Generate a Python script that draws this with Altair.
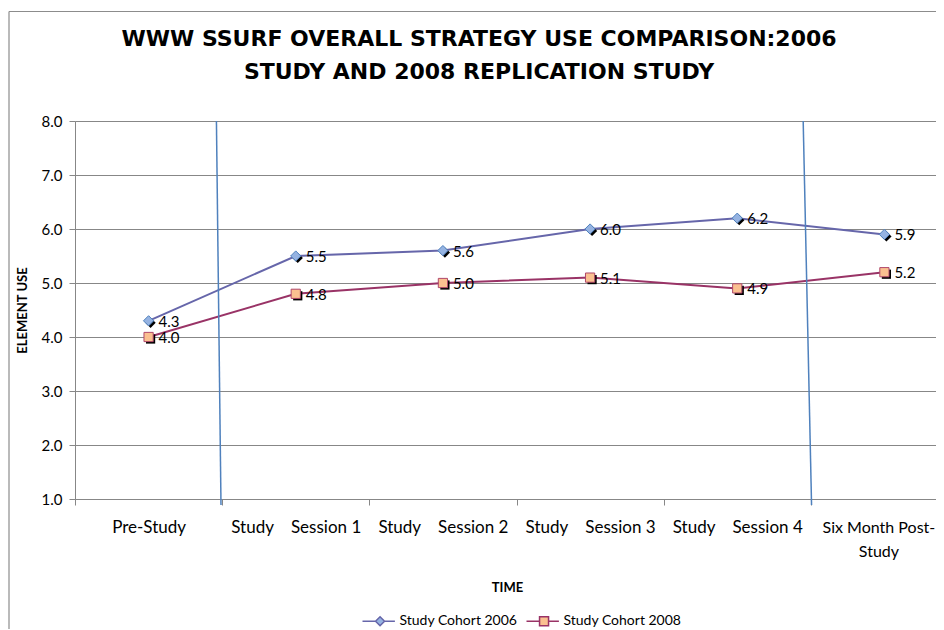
import altair as alt
import pandas as pd

# ---- data ----
categories = ["Pre-Study", "Study Session 1", "Study Session 2",
              "Study Session 3", "Study Session 4", "Six Month Post-Study"]
series = ["Study Cohort 2006", "Study Cohort 2008"]
cohort_2006 = [4.3, 5.5, 5.6, 6.0, 6.2, 5.9]
cohort_2008 = [4.0, 4.8, 5.0, 5.1, 4.9, 5.2]

# separator lines (in category units: 0 = left edge of first category) and element-use units
sep_top_x = [0.961, 4.948]
sep_bottom_x = [0.992, 5.005]
sep_top_y = [8.0, 8.0]
sep_bottom_y = [0.89, 0.89]

df = pd.DataFrame({
    "Time": categories * 2,
    "Series": [series[0]] * len(categories) + [series[1]] * len(categories),
    "Value": cohort_2006 + cohort_2008,
})
sep_df = pd.DataFrame({"bx": sep_top_x, "bx2": sep_bottom_x, "by": sep_top_y, "by2": sep_bottom_y})

FONT = "Lato"
TITLE_FONT = "DejaVu Sans"
GRID = "#878787"
line_colors = ["#6666AA", "#993366"]
fill_colors = ["#95B3E2", "#FAC090"]
edge_colors = ["#4F81BD", "#B0476A"]

PLOT_W = 861
FULL_RANGE = 883  # the plot area continues past the right edge of the picture


def xband():
    return alt.Scale(type="band", domain=categories, range=[0, FULL_RANGE],
                     paddingInner=0, paddingOuter=0)


label_expr = ("datum.label == 'Six Month Post-Study' ? ['Six Month Post-', 'Study'] : "
              "replace(datum.label, 'Study Session', 'Study\u00a0\u00a0\u00a0\u00a0Session')")
last_test = "datum.label == 'Six Month Post-Study'"

x_axis = alt.Axis(tickBand="extent", tickSize=6, grid=False, labelExpr=label_expr,
                  labelFont=FONT,
                  labelFontSize={"condition": {"test": last_test, "value": 16}, "value": 17},
                  labelOffset={"condition": {"test": last_test, "value": -6}, "value": 0},
                  labelColor="black", labelPadding=14,
                  labelOverlap=False, labelLineHeight=24.5, labelAngle=0,
                  domainColor=GRID, tickColor=GRID,
                  title="TIME", titleFont=FONT, titleFontSize=13, titleFontWeight="bold",
                  titleColor="black", titlePadding=22, titleX=432)
x_enc = alt.X("Time:N", scale=xband(), axis=x_axis, bandPosition=0.5)


def x_noaxis():
    return alt.X("Time:N", scale=xband(), axis=None, bandPosition=0.5)


y_scale = alt.Scale(domain=[1, 8], nice=False, zero=False)
y_axis = alt.Axis(values=[1, 2, 3, 4, 5, 6, 7, 8], format=".1f", tickSize=6, labelPadding=7,
                  labelFont=FONT, labelFontSize=15, labelColor="black",
                  gridColor=GRID, domainColor=GRID, tickColor=GRID,
                  title="ELEMENT USE", titleFont=FONT, titleFontSize=13,
                  titleFontWeight="bold", titleColor="black", titlePadding=12)
y_enc = alt.Y("Value:Q", scale=y_scale, axis=y_axis)

shape_scale = alt.Scale(domain=series, range=["diamond", "square"])
size_scale = alt.Scale(domain=series, range=[105, 85])

base = alt.Chart(df)

lines = base.mark_line(strokeWidth=2).encode(
    x=x_enc, y=y_enc,
    color=alt.Color("Series:N", scale=alt.Scale(domain=series, range=line_colors), legend=None),
)

shadows = base.mark_point(filled=True, color="black", opacity=1, xOffset=2, yOffset=2).encode(
    x=x_noaxis(), y=y_enc,
    shape=alt.Shape("Series:N", scale=shape_scale, legend=None),
    size=alt.Size("Series:N", scale=size_scale, legend=None),
)

points = base.mark_point(filled=True, opacity=1, strokeWidth=1).encode(
    x=x_noaxis(), y=y_enc,
    shape=alt.Shape("Series:N", scale=shape_scale, legend=None),
    size=alt.Size("Series:N", scale=size_scale, legend=None),
    fill=alt.Fill("Series:N", scale=alt.Scale(domain=series, range=fill_colors), legend=None),
    stroke=alt.Stroke("Series:N", scale=alt.Scale(domain=series, range=edge_colors), legend=None),
)

labels = base.mark_text(align="left", baseline="middle", dx=10, dy=1,
                        font=FONT, fontSize=15, color="black").encode(
    x=x_noaxis(), y=y_enc,
    text=alt.Text("Value:Q", format=".1f"),
)

# legend symbols: line with the series marker on it
legend_paths = [
    "M0,0H2.9M4.9,0H7.2M3.9,-1L4.9,0L3.9,1L2.9,0Z",
    "M0,0H2.9M4.9,0H7.2M2.9,-1H4.9V1H2.9Z",
]
leg = alt.Legend(orient="none", legendX=280.5, legendY=493, direction="horizontal",
                 title=None, padding=0, labelFont=FONT, labelFontSize=14, labelColor="black",
                 labelOffset=30, symbolSize=81, symbolStrokeWidth=1.5, columnPadding=2,
                 symbolOpacity=1)
legend_layer = base.mark_point(filled=True, opacity=0).encode(
    x=x_noaxis(), y=y_enc,
    shape=alt.Shape("Series:N", scale=alt.Scale(domain=series, range=legend_paths), legend=leg),
    fill=alt.Fill("Series:N", scale=alt.Scale(domain=series, range=fill_colors), legend=leg),
    stroke=alt.Stroke("Series:N", scale=alt.Scale(domain=series, range=line_colors), legend=leg),
)

seps = alt.Chart(sep_df).mark_rule(color="#4F81BD", strokeWidth=1.5, clip=False).encode(
    x=alt.X("bx:Q", scale=alt.Scale(domain=[0, 6], range=[0, FULL_RANGE]), axis=None),
    x2="bx2:Q",
    y=alt.Y("by:Q", scale=y_scale, axis=y_axis),
    y2="by2:Q",
)

frame_df = pd.DataFrame({"k": [0]})
frame_left = alt.Chart(frame_df).mark_rule(color="#8C8C8C", strokeWidth=1.2).encode(
    x=alt.value(-66), y=alt.value(-109.5), y2=alt.value(520))
frame_top = alt.Chart(frame_df).mark_rule(color="#8C8C8C", strokeWidth=1.2).encode(
    x=alt.value(-66), x2=alt.value(900), y=alt.value(-109.5))

chart = alt.layer(frame_left, frame_top, lines, shadows, points, labels, legend_layer, seps).resolve_scale(
    x="independent", shape="independent", fill="independent", stroke="independent", size="independent"
).properties(
    width=PLOT_W, height=378,
    autosize=alt.AutoSizeParams(type="none"),
    padding={"left": 67, "top": 113, "right": 0, "bottom": 130},
    title=alt.TitleParams(
        text=["WWW SSURF OVERALL STRATEGY USE COMPARISON:2006",
              "STUDY AND 2008 REPLICATION STUDY"],
        font=TITLE_FONT, fontSize=22, fontWeight="bold", color="black",
        anchor="middle", frame="group", dx=-26.5, offset=-73, lineHeight=33,
    ),
).configure_view(stroke=None).configure(background="white")

chart.save("out.html", embed_options={"renderer": "svg", "actions": False})
